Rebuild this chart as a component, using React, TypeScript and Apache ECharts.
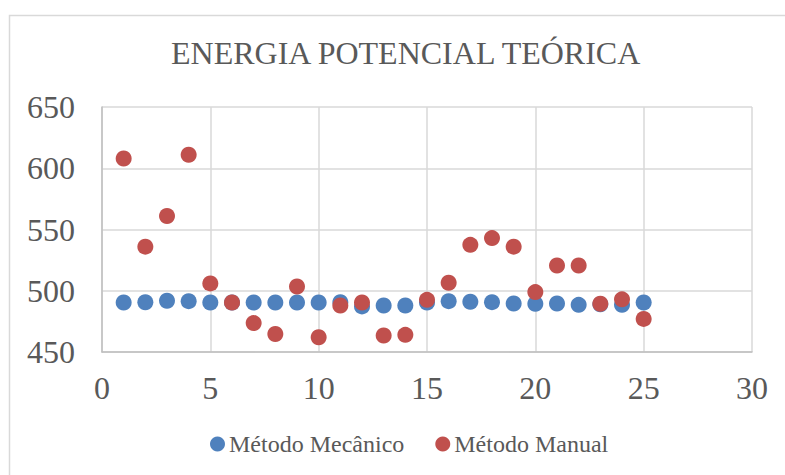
import React, { useEffect, useRef } from "react";
import * as echarts from "echarts";

const xValues = [1, 2, 3, 4, 5, 6, 7, 8, 9, 10, 11, 12, 13, 14, 15, 16, 17, 18, 19, 20, 21, 22, 23, 24, 25];
const mecanico = [490.4, 490.6, 491.8, 491.5, 490.4, 490.4, 490.4, 490.4, 490.4, 490.4, 490.7, 487.2, 488, 488, 490.4, 491.5, 491, 490.7, 489.6, 489.4, 489.6, 488.5, 489, 488.5, 490.4];
const manual = [608, 536, 561, 611, 506, 490.4, 473.6, 464.7, 503.5, 462, 488, 490.4, 463.5, 464, 492.6, 506.5, 537.5, 543, 536, 498.9, 520.6, 520.6, 489.4, 493, 477];
const titleText = "ENERGIA POTENCIAL TEÓRICA";
const seriesNames = ["Método Mecânico", "Método Manual"];

const FONT = "'Liberation Serif', 'Times New Roman', serif";
const TXT = "#595959";

export default function App() {
  const ref = useRef<HTMLDivElement>(null);
  useEffect(() => {
    document.body.style.margin = "0";
    const chart = echarts.init(ref.current!, undefined, { renderer: "svg" });
    chart.setOption({
      animation: false,
      backgroundColor: "#ffffff",
      graphic: [
        {
          type: "rect",
          shape: { x: 9.5, y: 15.5, width: 800, height: 500 },
          style: { fill: "none", stroke: "#d9d9d9", lineWidth: 1.5 },
          silent: true,
        },
      ],
      title: {
        text: titleText,
        left: 166,
        top: 32,
        textStyle: { fontFamily: FONT, fontSize: 32, fontWeight: "normal", color: TXT },
      },
      legend: {
        left: 205,
        top: 427,
        icon: "circle",
        itemWidth: 15,
        itemHeight: 15,
        itemGap: 31,
        textStyle: { fontFamily: FONT, fontSize: 24, color: TXT, padding: [0, 0, 0, -1] },
        data: seriesNames,
      },
      grid: { left: 102, top: 107, width: 650, height: 245, containLabel: false },
      xAxis: {
        type: "value",
        min: 0,
        max: 30,
        interval: 5,
        axisLine: { show: true, lineStyle: { color: "#bfbfbf", width: 1.5 } },
        axisTick: { show: false },
        splitLine: { show: true, lineStyle: { color: "#d9d9d9", width: 1.5 } },
        axisLabel: { fontFamily: FONT, fontSize: 32, color: TXT, margin: 20 },
      },
      yAxis: {
        type: "value",
        min: 450,
        max: 650,
        interval: 50,
        axisLine: { show: true, lineStyle: { color: "#bfbfbf", width: 1.5 } },
        axisTick: { show: false },
        splitLine: { show: true, lineStyle: { color: "#d9d9d9", width: 1.5 } },
        axisLabel: { fontFamily: FONT, fontSize: 32, color: TXT, margin: 27 },
      },
      series: [
        {
          name: seriesNames[0],
          type: "scatter",
          symbolSize: 16,
          itemStyle: { color: "#4f81bd", opacity: 1 },
          data: xValues.map((x, i) => [x, mecanico[i]]),
        },
        {
          name: seriesNames[1],
          type: "scatter",
          symbolSize: 16,
          itemStyle: { color: "#c0504d", opacity: 1 },
          data: xValues.map((x, i) => [x, manual[i]]),
        },
      ],
    });
    return () => chart.dispose();
  }, []);
  return <div ref={ref} style={{ width: 785, height: 475 }} />;
}
